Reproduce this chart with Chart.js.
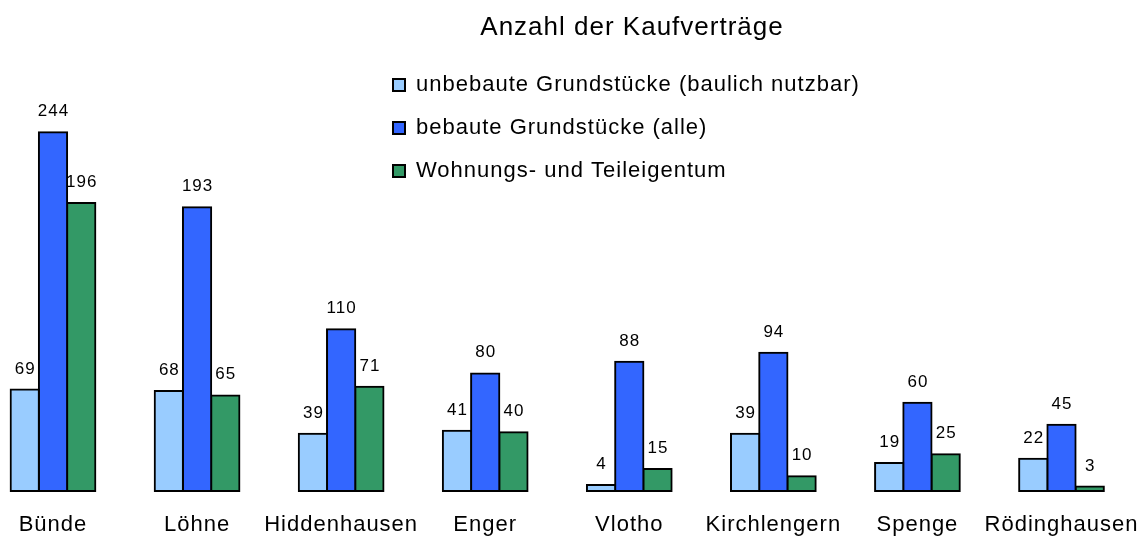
<!DOCTYPE html>
<html lang="de">
<head>
<meta charset="utf-8">
<title>Anzahl der Kaufverträge</title>
<script src="https://cdn.jsdelivr.net/npm/chart.js@4.4.1/dist/chart.umd.min.js"></script>
<style>
  html, body { margin: 0; padding: 0; background: #fff; }
  canvas { display: block; }
</style>
</head>
<body>
<canvas id="chart" width="1142" height="536"></canvas>
<script>
const categories = ['Bünde', 'Löhne', 'Hiddenhausen', 'Enger', 'Vlotho', 'Kirchlengern', 'Spenge', 'Rödinghausen']
const unbebaut = [69, 68, 39, 41, 4, 39, 19, 22]
const bebaut = [244, 193, 110, 80, 88, 94, 60, 45]
const wohnung = [196, 65, 71, 40, 15, 10, 25, 3]
const seriesNames = ['unbebaute Grundstücke (baulich nutzbar)', 'bebaute Grundstücke (alle)', 'Wohnungs- und Teileigentum']
const seriesColors = ['#99ccff', '#3366ff', '#339966']
const titleText = 'Anzahl der Kaufverträge'

const FONT = '"Liberation Sans", Arial, sans-serif'

// the original text is set a little loose
const spacing = {
  id: 'spacing',
  beforeUpdate(chart) { chart.ctx.letterSpacing = '1px' },
  beforeDraw(chart) { chart.ctx.letterSpacing = '1px' }
}

// values above each bar, placed from the bar elements
const valueLabels = {
  id: 'valueLabels',
  afterDatasetsDraw(chart) {
    const ctx = chart.ctx
    ctx.save()
    ctx.font = `17px ${FONT}`
    ctx.fillStyle = '#000'
    ctx.textAlign = 'center'
    ctx.textBaseline = 'alphabetic'
    chart.data.datasets.forEach((ds, i) => {
      chart.getDatasetMeta(i).data.forEach((bar, j) => {
        ctx.fillText(String(ds.data[j]), bar.x + 0.5, bar.y - 16)
      })
    })
    ctx.restore()
  }
}

// move title and legend to where the original has them
const placeBlocks = {
  id: 'placeBlocks',
  afterLayout(chart) {
    const t = chart.titleBlock
    if (t) { t.left = 332; t.right = 932; t.width = 600 }
    const l = chart.legend
    if (l) {
      const w = l.width, h = l.height
      l.left = 372; l.top = 53
      l.right = l.left + w; l.bottom = l.top + h
    }
  }
}

const ds = (name, data, color) => ({
  label: name,
  data: data,
  backgroundColor: color,
  borderColor: '#000',
  borderWidth: 2,
  borderSkipped: false,
  inflateAmount: 1,
  clip: false
})

new Chart(document.getElementById('chart'), {
  type: 'bar',
  data: {
    labels: categories,
    datasets: [
      ds(seriesNames[0], unbebaut, seriesColors[0]),
      ds(seriesNames[1], bebaut, seriesColors[1]),
      ds(seriesNames[2], wohnung, seriesColors[2])
    ]
  },
  options: {
    responsive: false,
    animation: false,
    devicePixelRatio: 1,
    events: [],
    categoryPercentage: 0.588,
    barPercentage: 1,
    layout: { padding: { left: 53, right: 80.5, top: 0, bottom: -23 } },
    scales: {
      x: {
        offset: false,
        grid: { display: false, drawTicks: false },
        border: { display: false },
        ticks: {
          autoSkip: false,
          maxRotation: 0,
          minRotation: 0,
          padding: 23,
          color: '#000',
          font: { family: FONT, size: 22, lineHeight: 1 }
        },
        afterFit: (scale) => { scale.paddingLeft = 0; scale.paddingRight = 0 }
      },
      y: {
        display: false,
        min: 0,
        max: 300
      }
    },
    plugins: {
      tooltip: { enabled: false },
      title: {
        display: true,
        text: titleText,
        color: '#000',
        font: { family: FONT, size: 26, weight: 'normal', lineHeight: 1.2 },
        padding: { top: 12, bottom: 6.8 }
      },
      legend: {
        position: 'chartArea',
        align: 'start',
        labels: {
          boxWidth: 12,
          boxHeight: 12,
          padding: 21,
          color: '#000',
          font: { family: FONT, size: 22 }
        }
      }
    }
  },
  plugins: [spacing, valueLabels, placeBlocks]
})
</script>
</body>
</html>
